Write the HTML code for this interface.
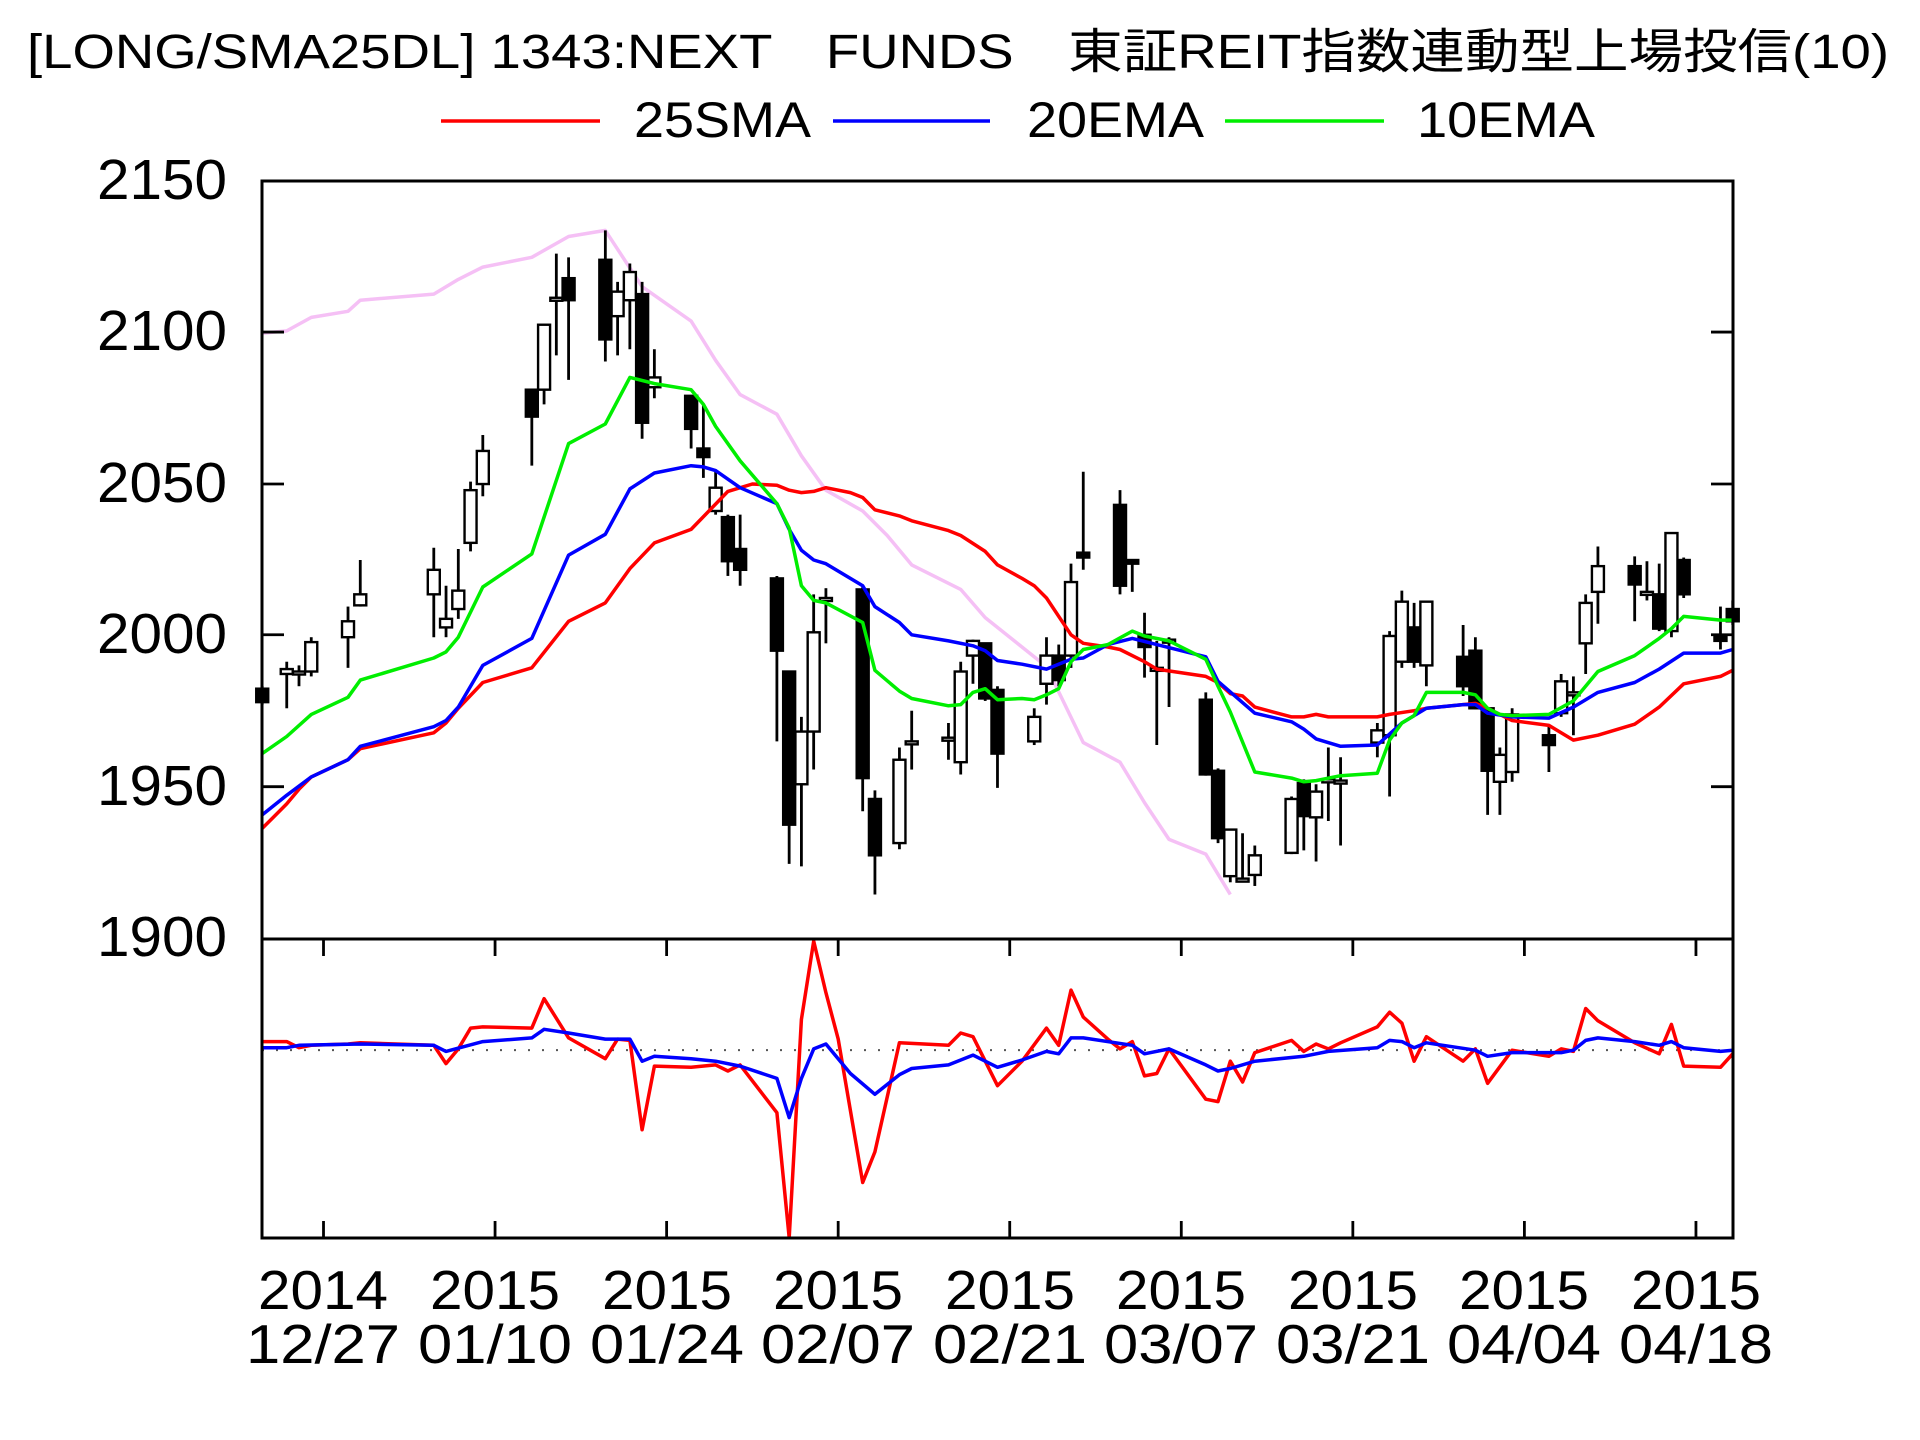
<!DOCTYPE html>
<html><head><meta charset="utf-8"><style>
html,body{margin:0;padding:0;background:#fff;}
svg{display:block;}
text{font-family:"Liberation Sans","Noto Sans CJK JP",sans-serif;fill:#000;}
</style></head><body>
<svg id="s" width="1920" height="1440" viewBox="0 0 1920 1440" xmlns="http://www.w3.org/2000/svg">
<rect width="1920" height="1440" fill="#fff"/>
<text x="958" y="68" font-size="48" text-anchor="middle" textLength="1862" lengthAdjust="spacingAndGlyphs">[LONG/SMA25DL] 1343:NEXT　FUNDS　東証REIT指数連動型上場投信(10)</text>
<line x1="441" y1="121" x2="600" y2="121" stroke="#f00" stroke-width="3.5"/>
<text x="634" y="137" font-size="50" textLength="177" lengthAdjust="spacingAndGlyphs">25SMA</text>
<line x1="833" y1="121" x2="990" y2="121" stroke="#00f" stroke-width="3.5"/>
<text x="1027" y="137" font-size="50" textLength="177" lengthAdjust="spacingAndGlyphs">20EMA</text>
<line x1="1225" y1="121" x2="1384" y2="121" stroke="#0e0" stroke-width="3.5"/>
<text x="1417" y="137" font-size="50" textLength="178" lengthAdjust="spacingAndGlyphs">10EMA</text>
<g font-size="57" text-anchor="end">
<text x="227" y="199" textLength="130" lengthAdjust="spacingAndGlyphs">2150</text>
<text x="227" y="350" textLength="130" lengthAdjust="spacingAndGlyphs">2100</text>
<text x="227" y="502" textLength="130" lengthAdjust="spacingAndGlyphs">2050</text>
<text x="227" y="653" textLength="130" lengthAdjust="spacingAndGlyphs">2000</text>
<text x="227" y="805" textLength="130" lengthAdjust="spacingAndGlyphs">1950</text>
<text x="227" y="956" textLength="130" lengthAdjust="spacingAndGlyphs">1900</text>
</g>
<g font-size="55" text-anchor="middle">
<text x="323" y="1309" textLength="130" lengthAdjust="spacingAndGlyphs">2014</text><text x="323" y="1363" textLength="154" lengthAdjust="spacingAndGlyphs">12/27</text>
<text x="495" y="1309" textLength="130" lengthAdjust="spacingAndGlyphs">2015</text><text x="495" y="1363" textLength="154" lengthAdjust="spacingAndGlyphs">01/10</text>
<text x="667" y="1309" textLength="130" lengthAdjust="spacingAndGlyphs">2015</text><text x="667" y="1363" textLength="154" lengthAdjust="spacingAndGlyphs">01/24</text>
<text x="838" y="1309" textLength="130" lengthAdjust="spacingAndGlyphs">2015</text><text x="838" y="1363" textLength="154" lengthAdjust="spacingAndGlyphs">02/07</text>
<text x="1010" y="1309" textLength="130" lengthAdjust="spacingAndGlyphs">2015</text><text x="1010" y="1363" textLength="154" lengthAdjust="spacingAndGlyphs">02/21</text>
<text x="1181" y="1309" textLength="130" lengthAdjust="spacingAndGlyphs">2015</text><text x="1181" y="1363" textLength="154" lengthAdjust="spacingAndGlyphs">03/07</text>
<text x="1353" y="1309" textLength="130" lengthAdjust="spacingAndGlyphs">2015</text><text x="1353" y="1363" textLength="154" lengthAdjust="spacingAndGlyphs">03/21</text>
<text x="1524" y="1309" textLength="130" lengthAdjust="spacingAndGlyphs">2015</text><text x="1524" y="1363" textLength="154" lengthAdjust="spacingAndGlyphs">04/04</text>
<text x="1696" y="1309" textLength="130" lengthAdjust="spacingAndGlyphs">2015</text><text x="1696" y="1363" textLength="154" lengthAdjust="spacingAndGlyphs">04/18</text>
</g>
<g id="g"></g>
</svg>
<script>
var NS="http://www.w3.org/2000/svg",G=document.getElementById('g');
var K=1.2254;
function X(x){return K*x;}
function Y(y){return K*y;}
function L(y){return K*y;}
function el(t,a){var e=document.createElementNS(NS,t);for(var k in a)e.setAttribute(k,a[k]);G.appendChild(e);return e;}
function poly(p,f,c,w){var s=[];for(var i=0;i<p.length;i+=2)s.push(X(p[i]).toFixed(1)+','+f(p[i+1]).toFixed(1));el('polyline',{points:s.join(' '),fill:'none',stroke:c,'stroke-width':w,'stroke-linejoin':'round'});}
poly([214,272,234,270,254,259,284,254,294,245,354,240,374,228,394,218,434,210,464,193,494,188,524,234,564,262,584,294,604,322,634,338,654,372,674,400,704,417,724,437,744,461,784,481,804,504,854,544,884,606,914,622,934,655,954,685,984,697,1004,730],Y,'#f5c0f5',3.5);
var C=[[214,562,573,560,575,1],[234,546,550,540,578,0],[244,548,548,543,560,0],[254,524,548,520,552,0],[284,507,520,495,545,0],[294,485,494,457,495,0],[354,465,485,447,520,0],[364,505,512,478,520,0],[374,482,497,448,505,0],[384,400,443,393,450,0],[394,368,395,355,405,0],[434,318,340,318,380,1],[444,265,318,265,330,0],[454,243,243,207,290,0],[464,227,245,210,310,1],[494,212,277,188,295,1],[504,238,258,230,290,0],[514,222,245,215,285,0],[524,240,345,230,358,1],[534,308,316,285,325,0],[564,323,350,323,366,1],[574,366,373,330,390,1],[584,398,417,385,420,0],[594,422,458,420,470,1],[604,448,465,420,478,1],[634,472,531,470,605,1],[644,548,673,548,705,1],[654,597,640,585,707,0],[664,516,597,485,628,0],[674,488,490,480,525,0],[704,481,635,478,662,1],[714,652,698,645,730,1],[734,620,688,610,693,0],[744,605,605,580,628,0],[774,602,602,590,620,0],[784,548,622,540,632,0],[794,523,535,522,558,0],[804,525,570,525,572,1],[814,563,615,560,643,1],[844,585,605,578,608,0],[854,535,558,520,575,0],[864,535,555,526,560,1],[874,475,535,460,545,0],[884,451,455,385,465,1],[914,412,478,400,485,1],[924,457,460,457,483,1],[934,518,528,500,553,1],[944,545,545,523,608,0],[954,522,522,520,577,0],[984,571,632,565,633,1],[994,629,684,627,688,1],[1004,677,715,677,720,0],[1014,717,717,680,720,0],[1024,698,714,690,723,0],[1054,652,696,650,697,0],[1064,639,666,636,694,1],[1074,646,667,640,703,0],[1084,636,636,610,670,0],[1094,637,637,618,690,0],[1124,596,606,590,618,0],[1134,519,600,515,650,0],[1144,491,540,482,545,0],[1154,512,540,492,545,1],[1164,491,543,491,560,0],[1194,536,560,510,568,1],[1204,531,578,520,579,1],[1214,578,629,578,665,1],[1224,616,638,610,665,0],[1234,583,630,578,638,0],[1264,600,608,592,630,1],[1274,556,582,550,585,0],[1284,565,565,552,600,0],[1294,492,525,485,550,0],[1304,462,483,446,509,0],[1334,462,477,454,507,1],[1344,483,483,458,490,0],[1354,485,513,460,515,1],[1364,435,515,435,520,0],[1374,457,485,455,488,1],[1404,519,523,495,530,1],[1414,497,507,490,510,1]];
C.forEach(function(c){var x=X(c[0]);
 el('line',{x1:x,x2:x,y1:Y(c[3]),y2:Y(c[4]),stroke:'#000','stroke-width':2.8});
 var t=Y(c[1]),b=Y(c[2]),h=Math.max(b-t,3);
 el('rect',{x:x-6,y:t,width:12,height:h,fill:c[5]?'#000':'#fff',stroke:'#000','stroke-width':2.4});
});
poly([214,676,224,666,234,656,244,644,254,634,284,620,294,611,354,598,364,590,374,578,394,557,434,545,464,507,494,492,514,464,534,443,564,432,594,401,614,395,634,396,644,400,654,402,664,401,674,398,694,402,704,406,714,416,734,421,744,425,774,433,784,437,804,450,814,461,834,472,844,478,854,488,874,518,884,525,904,528,914,530,934,540,944,546,984,552,994,557,1004,566,1014,568,1024,577,1054,585,1064,585,1074,583,1084,585,1124,585,1134,583,1154,580,1164,578,1194,575,1204,574,1214,578,1234,588,1264,592,1284,604,1304,600,1334,591,1354,577,1374,558,1404,552,1414,547],Y,'#f00',3.5);
poly([214,665,234,649,254,634,284,620,294,609,354,593,364,588,374,577,394,543,434,521,464,453,494,436,514,399,534,386,564,380,574,381,584,384,604,398,634,411,644,432,654,449,664,457,674,460,704,478,714,495,734,508,744,518,774,523,794,527,804,531,814,539,834,542,854,546,874,538,884,537,904,526,924,521,944,526,984,536,994,556,1024,582,1054,589,1064,595,1074,603,1094,609,1124,608,1144,590,1154,584,1164,578,1194,575,1204,575,1214,582,1234,585,1264,586,1284,577,1304,565,1334,557,1354,546,1374,533,1404,533,1414,530],Y,'#00f',3.5);
poly([214,615,234,601,254,583,284,569,294,555,354,537,364,532,374,520,394,479,434,452,464,362,494,346,514,308,534,313,564,318,574,330,584,348,604,376,634,411,644,431,654,478,664,490,674,492,704,508,714,547,734,564,744,570,774,576,784,575,794,565,804,562,814,571,834,570,844,571,854,567,864,562,874,540,884,530,904,526,924,515,934,519,954,523,984,538,994,560,1004,581,1024,630,1054,635,1064,638,1074,637,1094,633,1124,631,1134,604,1144,590,1154,584,1164,565,1194,565,1204,567,1214,578,1224,583,1234,584,1264,583,1284,572,1304,548,1334,535,1354,521,1364,513,1374,503,1404,506,1414,506],Y,'#0e0',3.5);
el('line',{x1:262,x2:1733,y1:L(857),y2:L(857),stroke:'#555','stroke-width':2,'stroke-dasharray':'2,12'});
poly([214,850,234,850,244,855,254,853,284,852,294,851,354,853,364,868,374,856,384,839,394,838,434,839,444,815,464,847,494,864,504,848,514,849,524,922,534,870,564,871,584,869,594,874,604,869,634,908,644,1010,654,832,664,768,674,810,684,848,704,965,714,940,734,851,774,853,784,843,794,846,814,886,834,866,854,839,864,853,874,808,884,830,904,848,914,856,924,850,934,878,944,876,954,856,984,897,994,899,1004,866,1014,883,1024,859,1054,849,1064,858,1074,852,1084,856,1094,851,1124,838,1134,826,1144,835,1154,866,1164,846,1194,866,1204,856,1214,884,1234,857,1264,862,1274,856,1284,858,1294,823,1304,833,1334,851,1354,860,1364,836,1374,870,1404,871,1414,860],L,'#f00',3.5);
poly([214,855,234,855,244,853,294,852,354,853,364,858,394,850,434,847,444,840,464,843,494,848,514,848,524,866,534,862,564,864,584,866,604,870,634,880,644,912,654,880,664,856,674,852,694,876,714,893,734,877,744,872,774,869,794,861,814,871,834,865,854,858,864,860,874,847,884,847,924,853,934,860,954,856,984,869,994,874,1004,872,1024,866,1064,862,1084,858,1124,855,1134,849,1144,850,1154,855,1164,851,1204,857,1214,862,1234,859,1274,859,1284,857,1294,849,1304,847,1334,850,1354,853,1364,850,1374,855,1404,858,1414,857],L,'#00f',3.5);
[271,395,518,642].forEach(function(yd){var y=Y(yd);el('line',{x1:262,x2:284,y1:y,y2:y,stroke:'#000','stroke-width':2.8});el('line',{x1:1711,x2:1733,y1:y,y2:y,stroke:'#000','stroke-width':2.8});});
for(var i=0;i<9;i++){var x=X(264+i*140);el('line',{x1:x,x2:x,y1:939,y2:956,stroke:'#000','stroke-width':2.8});el('line',{x1:x,x2:x,y1:1238,y2:1221,stroke:'#000','stroke-width':2.8});}
el('rect',{x:262,y:181,width:1471,height:758,fill:'none',stroke:'#000','stroke-width':3});
el('rect',{x:262,y:939,width:1471,height:299,fill:'none',stroke:'#000','stroke-width':3});
</script>
</body></html>
